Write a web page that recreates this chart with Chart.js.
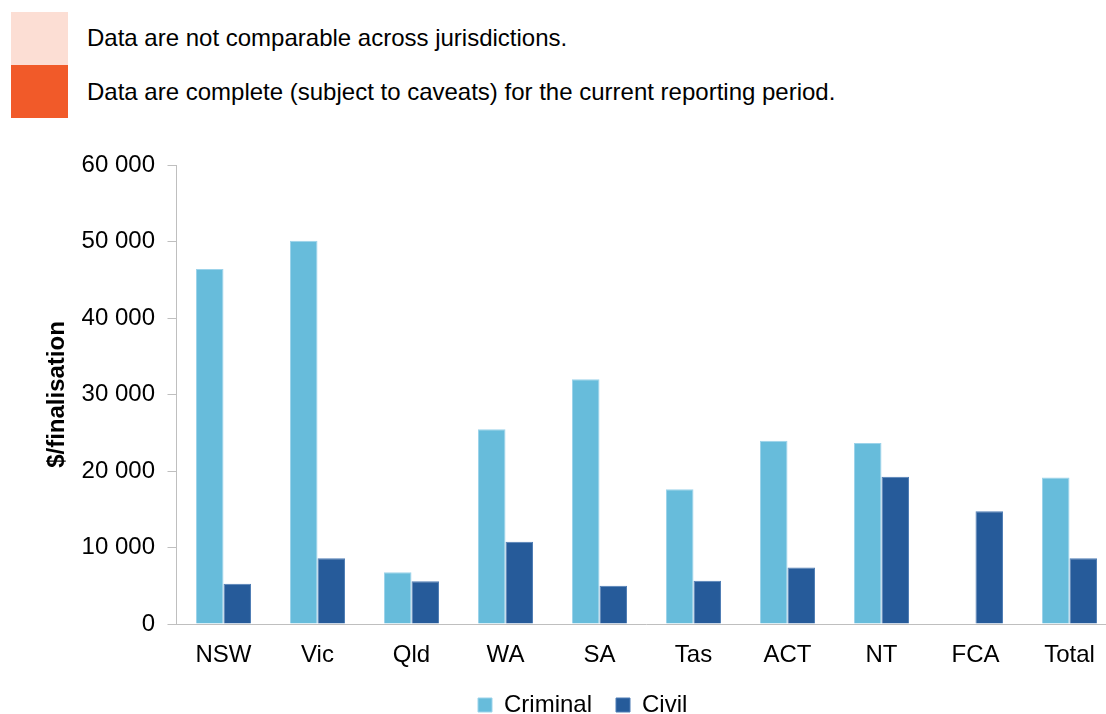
<!DOCTYPE html>
<html>
<head>
<meta charset="utf-8">
<script src="https://cdn.jsdelivr.net/npm/chart.js@4"></script>
<style>
  html, body { margin: 0; padding: 0; background: #fff; overflow: hidden; width: 1106px; height: 714px; }
  .key { position: absolute; left: 11px; width: 57px; height: 53px; }
  .ktext { position: absolute; left: 87px; font-family: "Liberation Sans", Arial, sans-serif; font-size: 24px; line-height: 24px; color: #000; white-space: nowrap; }
  #wrap { position: absolute; left: 0; top: 0; width: 1120px; height: 714px; }
</style>
</head>
<body>
<div class="key" style="top:12px;background:#FCDED4"></div>
<div class="key" style="top:65px;background:#F15A29"></div>
<div class="ktext" style="top:26px">Data are not comparable across jurisdictions.</div>
<div class="ktext" style="top:80px">Data are complete (subject to caveats) for the current reporting period.</div>
<div id="wrap"><canvas id="c"></canvas></div>
<script>
const categories = ['NSW', 'Vic', 'Qld', 'WA', 'SA', 'Tas', 'ACT', 'NT', 'FCA', 'Total'];
const criminal = [46400, 50100, 6750, 25450, 32000, 17600, 23950, 23650, null, 19150];
const civil = [5250, 8600, 5600, 10750, 5000, 5650, 7400, 19250, 14750, 8600];
const yTicks = [0, 10000, 20000, 30000, 40000, 50000, 60000];
const seriesNames = ['Criminal', 'Civil'];

const FONT = '"Liberation Sans", Arial, sans-serif';
const AXIS = '#BFBFBF';
const BOTTOM_OVERHANG = 40;
const fmt = v => String(v).replace(/\B(?=(\d{3})+(?!\d))/g, ' ');

const legendShift = {
  id: 'legendShift',
  afterLayout(chart) {
    const lg = chart.legend;
    if (!lg || !lg.lineWidths) return;
    const pad = lg.options.labels.padding;
    const x0 = (lg.left + pad + lg.right - lg.lineWidths[0]) / 2;
    const dx = 478 - x0;
    const dy = 669 - lg.top;
    lg.left += dx; lg.right += dx; lg.top += dy; lg.bottom += dy;
  }
};

new Chart(document.getElementById('c'), {
  type: 'bar',
  data: {
    labels: categories,
    datasets: [
      { label: seriesNames[0], data: criminal, backgroundColor: '#67BCDB', borderColor: '#9CD3EA', borderWidth: 1 },
      { label: seriesNames[1], data: civil, backgroundColor: '#265B9A', borderColor: '#4F7DB5', borderWidth: 1 }
    ]
  },
  plugins: [legendShift],
  options: {
    responsive: true,
    maintainAspectRatio: false,
    animation: false,
    devicePixelRatio: 1,
    datasets: { bar: { categoryPercentage: 0.585, barPercentage: 1.0 } },
    layout: { padding: { top: 165, left: 0, right: 3.5, bottom: -BOTTOM_OVERHANG } },
    plugins: {
      tooltip: { enabled: false },
      legend: {
        position: 'bottom',
        labels: {
          font: { family: FONT, size: 24 },
          color: '#000',
          boxWidth: 14,
          boxHeight: 14,
          padding: 24
        }
      }
    },
    scales: {
      x: {
        grid: { display: true, drawOnChartArea: false, drawTicks: false, color: AXIS },
        border: { display: true, color: AXIS, width: 1 },
        ticks: { font: { family: FONT, size: 24 }, color: '#000', padding: 17, maxRotation: 0, autoSkip: false },
        afterFit(s) { s.height = 714 + BOTTOM_OVERHANG - 624 - (s.chart.legend ? s.chart.legend.height : 0); }
      },
      y: {
        min: 0, max: 60000,
        afterBuildTicks(s) { s.ticks = yTicks.map(v => ({ value: v })); },
        grid: { display: true, drawOnChartArea: false, drawTicks: true, tickLength: 9, color: AXIS },
        border: { display: true, color: AXIS, width: 1 },
        ticks: { font: { family: FONT, size: 24 }, color: '#000', padding: 12.5, callback: v => fmt(v) },
        title: { display: true, text: '$/finalisation', font: { family: FONT, size: 24, weight: 'bold' }, color: '#000', padding: { top: 42.6, bottom: 0 } },
        afterFit(s) { s.width = 176.5; }
      }
    }
  }
});
</script>
</body>
</html>
